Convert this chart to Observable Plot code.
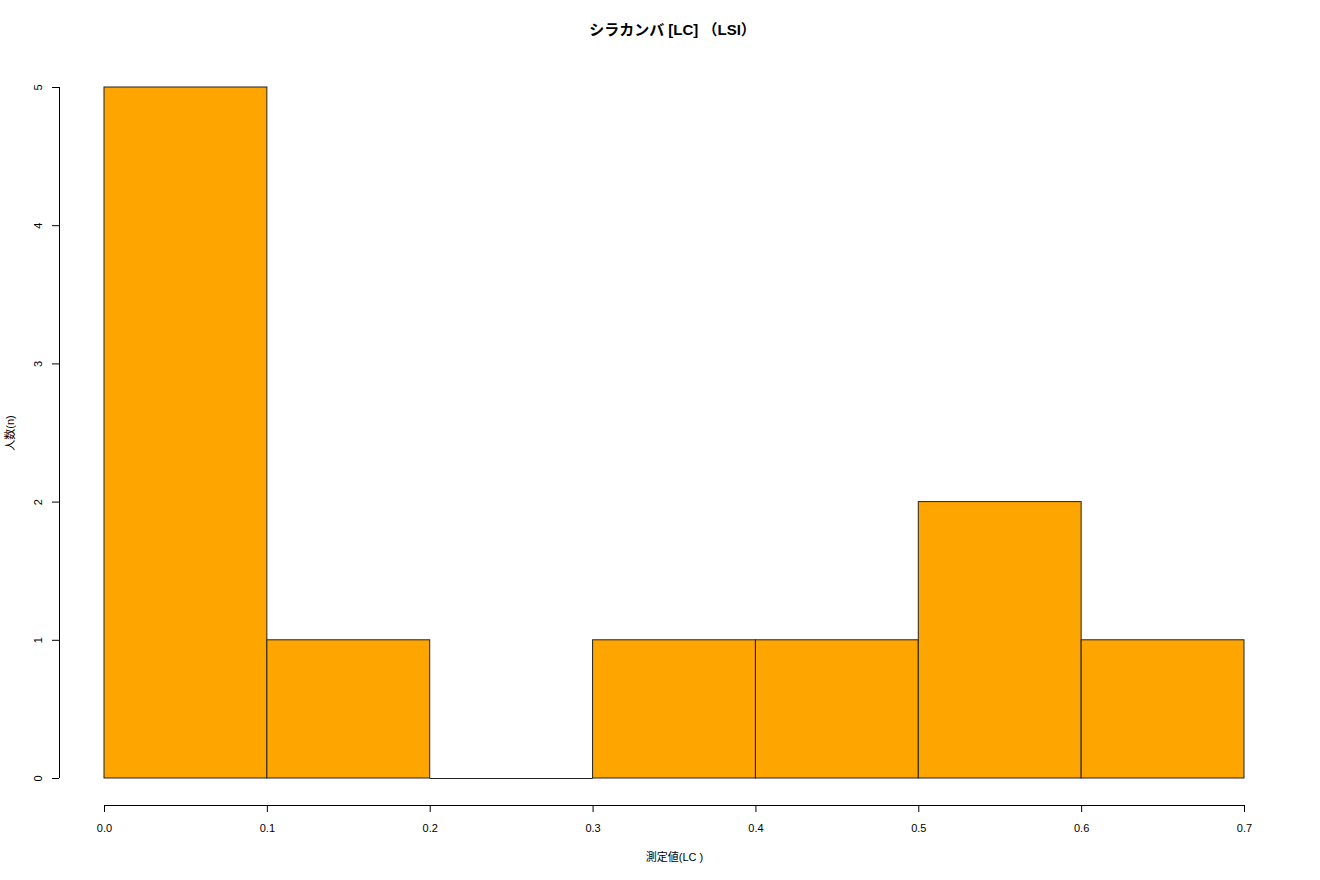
<!DOCTYPE html>
<html>
<head>
<meta charset="utf-8">
<script src="https://cdn.jsdelivr.net/npm/d3@7"></script>
<script src="https://cdn.jsdelivr.net/npm/@observablehq/plot@0.6"></script>
<style>
  html, body { margin: 0; padding: 0; background: #fff; }
  #chart svg { display: block; }
</style>
</head>
<body>
<div id="chart"></div>
<script>
const binStart = [0.0, 0.1, 0.2, 0.3, 0.4, 0.5, 0.6];
const binEnd   = [0.1, 0.2, 0.3, 0.4, 0.5, 0.6, 0.7];
const counts   = [5, 1, 0, 1, 1, 2, 1];
const xTicks = [0.0, 0.1, 0.2, 0.3, 0.4, 0.5, 0.6, 0.7];
const yTicks = [0, 1, 2, 3, 4, 5];
const title = "シラカンバ [LC] （LSI）";
const xLabel = "測定値(LC )";
const yLabel = "人数(n)";

const bins = binStart.map((s, i) => ({x1: s, x2: binEnd[i], n: counts[i]}));
const font = "'Liberation Sans', Arial, 'Noto Sans CJK JP', sans-serif";

const chart = Plot.plot({
  width: 1320,
  height: 880,
  marginLeft: 104,
  marginRight: 76,
  marginTop: 87,
  marginBottom: 102,
  style: {fontFamily: font, background: "#fff"},
  x: {domain: [0, 0.7], axis: null},
  y: {domain: [0, 5], axis: null},
  marks: [
    Plot.rect(bins.filter(b => b.n > 0), {x1: "x1", x2: "x2", y1: 0, y2: "n", fill: "#FFA500", stroke: "#222", strokeWidth: 1}),
    // zero-count bins drawn as flat outline
    Plot.ruleY(bins.filter(b => b.n === 0), {y: "n", x1: "x1", x2: "x2", stroke: "#222", strokeWidth: 1}),
    // x axis
    Plot.ruleY([0], {x1: 0, x2: 0.7, dy: 27, stroke: "#000"}),
    Plot.ruleX(xTicks, {x: d => d, y1: 0, y2: 0, insetBottom: -7, dy: 27, stroke: "#000"}),
    Plot.text(xTicks, {x: d => d, y: 0, dy: 50, text: d => d.toFixed(1), fontSize: 11, fill: "#000", lineAnchor: "middle"}),
    Plot.text([xLabel], {x: 0.35, y: 0, dy: 79, text: d => d, fontSize: 11, fill: "#000", lineAnchor: "middle"}),
    // y axis
    Plot.ruleX([0], {y1: 0, y2: 5, dx: -45, stroke: "#000"}),
    Plot.ruleY(yTicks, {y: d => d, x1: 0, x2: 0, insetLeft: -7, dx: -45, stroke: "#000"}),
    Plot.text(yTicks, {x: 0, y: d => d, dx: -66, text: d => String(d), rotate: -90, fontSize: 11, fill: "#000", lineAnchor: "middle", textAnchor: "middle"}),
    Plot.text([yLabel], {x: 0, y: 2.5, dx: -94, text: d => d, rotate: -90, fontSize: 11, fill: "#000", lineAnchor: "middle", textAnchor: "middle"}),
    // title
    Plot.text([title], {x: 0.35, y: 5, dy: -57, dx: -2, text: d => d, fontSize: 15, fontWeight: "bold", fill: "#000", lineAnchor: "middle"})
  ]
});
document.getElementById("chart").appendChild(chart);
</script>
</body>
</html>
